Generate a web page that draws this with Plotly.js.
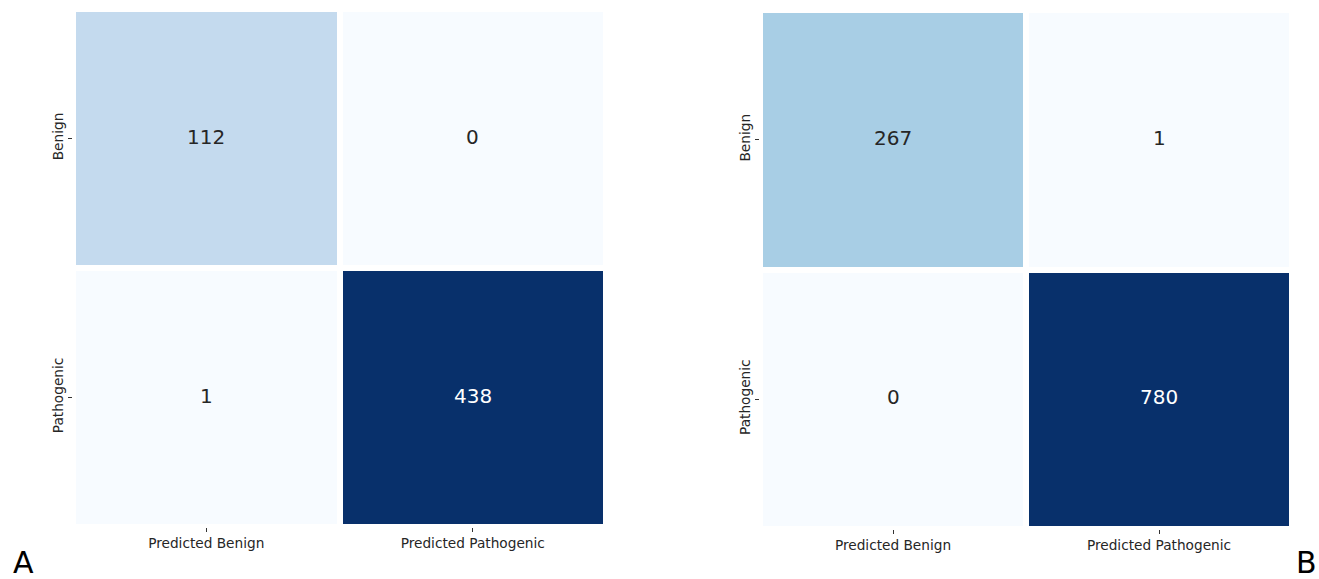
<!DOCTYPE html>
<html>
<head>
<meta charset="utf-8">
<script src="https://cdn.plot.ly/plotly-3.0.1.min.js"></script>
<style>
  html, body { margin: 0; padding: 0; background: #ffffff; }
  #chart { width: 1319px; height: 579px; }
</style>
</head>
<body>
<div id="chart"></div>
<script>
// Confusion-matrix data
const predictedLabels = ['Predicted Benign', 'Predicted Pathogenic'];
const actualLabels = ['Benign', 'Pathogenic'];
const countsA = [[112, 0], [1, 438]];
const countsB = [[267, 1], [0, 780]];
const panelLetters = ['A', 'B'];

// Sequential blue colour ramp
const bluesScale = [
  [0.000, '#f7fbff'], [0.125, '#deebf7'], [0.250, '#c6dbef'],
  [0.375, '#9ecae1'], [0.500, '#6baed6'], [0.625, '#4292c6'],
  [0.750, '#2171b5'], [0.875, '#08519c'], [1.000, '#08306b']
];

const W = 1319, H = 579;
const px = v => v / W;
const py = v => 1 - v / H;

function flat(m) { return [].concat(...m); }

function makeHeat(z, xa, ya) {
  const vals = flat(z);
  return {
    type: 'heatmap',
    x: predictedLabels,
    y: actualLabels,
    z: z,
    xaxis: xa, yaxis: ya,
    colorscale: bluesScale,
    zmin: Math.min(...vals),
    zmax: Math.max(...vals),
    xgap: 6, ygap: 6,
    showscale: false,
    hoverinfo: 'skip'
  };
}

function makeNotes(z, xref, yref) {
  const vals = flat(z);
  const lo = Math.min(...vals), hi = Math.max(...vals);
  const notes = [];
  z.forEach((row, i) => row.forEach((v, j) => {
    const t = (v - lo) / (hi - lo);
    notes.push({
      x: predictedLabels[j], y: actualLabels[i], xref: xref, yref: yref,
      text: String(v), showarrow: false, yshift: 2,
      font: { family: 'DejaVu Sans', size: 20, color: t > 0.5 ? '#ffffff' : '#262626' }
    });
  }));
  return notes;
}

const tickFont = { family: 'DejaVu Sans', size: 13.7, color: '#262626' };
function xAxis(domain, anchor) {
  return {
    domain: domain, anchor: anchor, type: 'category',
    range: [-0.5, 1.5], showgrid: false, zeroline: false, showline: false,
    ticks: 'outside', ticklen: 4, tickwidth: 1, tickcolor: '#333333',
    tickfont: tickFont, fixedrange: true
  };
}
function yAxis(domain, anchor) {
  return {
    domain: domain, anchor: anchor, type: 'category',
    range: [1.5, -0.5], showgrid: false, zeroline: false, showline: false,
    ticks: 'outside', ticklen: 4, tickwidth: 1, tickcolor: '#333333',
    tickfont: tickFont, tickangle: -90, fixedrange: true
  };
}

const data = [
  makeHeat(countsA, 'x', 'y'),
  makeHeat(countsB, 'x2', 'y2')
];

const annotations = [
  ...makeNotes(countsA, 'x', 'y'),
  ...makeNotes(countsB, 'x2', 'y2'),
  { text: panelLetters[0], xref: 'paper', yref: 'paper', x: px(23), y: py(562),
    xanchor: 'center', yanchor: 'middle', showarrow: false,
    font: { family: 'DejaVu Sans', size: 30, color: '#000000' } },
  { text: panelLetters[1], xref: 'paper', yref: 'paper', x: px(1306), y: py(562),
    xanchor: 'center', yanchor: 'middle', showarrow: false,
    font: { family: 'DejaVu Sans', size: 30, color: '#000000' } }
];

const layout = {
  width: W, height: H,
  margin: { l: 0, r: 0, t: 0, b: 0 },
  paper_bgcolor: '#ffffff', plot_bgcolor: '#ffffff',
  xaxis: xAxis([px(73), px(606)], 'y'),
  yaxis: yAxis([py(527), py(9)], 'x'),
  xaxis2: xAxis([px(760), px(1292)], 'y2'),
  yaxis2: yAxis([py(529), py(10)], 'x2'),
  annotations: annotations,
  showlegend: false
};

Plotly.newPlot('chart', data, layout, { displayModeBar: false, staticPlot: true });
</script>
</body>
</html>
